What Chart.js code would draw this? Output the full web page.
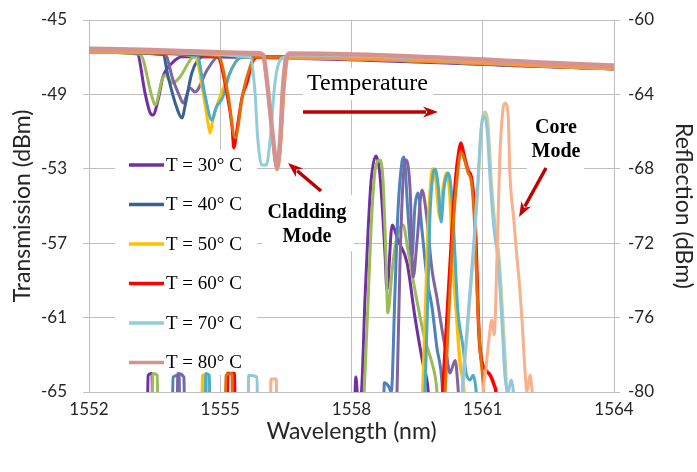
<!DOCTYPE html>
<html><head><meta charset="utf-8">
<script src="https://cdn.jsdelivr.net/npm/chart.js@4"></script>
<style>html,body{margin:0;padding:0;background:#fff}canvas{display:block}</style>
</head><body>
<canvas id="c" width="697" height="472"></canvas>
<script>
// ---- Transmission (left axis, dBm) : wavelength (nm) / value arrays ----
const T30_WL = [1552, 1553.10, 1553.28, 1553.39, 1553.46, 1553.58, 1553.69, 1553.90, 1554.13, 1564];
const T30_DB = [-46.72, -46.82, -48.92, -49.95, -50.11, -49.30, -48.06, -47.31, -46.98, -47.62];
const T30B_WL = [1552, 1553.17, 1553.44, 1553.51, 1553.67, 1553.74, 1553.90, 1554.08, 1554.35, 1554.49, 1564];
const T30B_DB = [-46.72, -46.85, -49.14, -49.57, -48.23, -47.96, -48.39, -48.06, -47.04, -46.92, -47.62];
const T40_WL = [1552, 1553.69, 1553.81, 1553.97, 1554.13, 1554.19, 1554.35, 1554.49, 1554.65, 1564];
const T40_DB = [-46.72, -46.86, -48.06, -49.46, -50.27, -49.68, -47.85, -47.15, -46.95, -47.62];
const T40B_WL = [1552, 1553.74, 1553.92, 1554.08, 1554.15, 1554.31, 1554.42, 1554.70, 1554.93, 1555.04, 1564];
const T40B_DB = [-46.72, -46.86, -48.23, -49.14, -49.46, -48.66, -48.87, -47.69, -46.99, -46.95, -47.62];
const T50_WL = [1552, 1554.42, 1554.61, 1554.72, 1554.77, 1554.83, 1554.99, 1555.15, 1555.38, 1555.50, 1564];
const T50_DB = [-46.72, -46.92, -48.92, -50.54, -51.08, -50.38, -49.14, -48.23, -47.15, -46.99, -47.62];
const T50B_WL = [1552, 1554.47, 1554.65, 1554.81, 1554.90, 1555.06, 1555.22, 1555.45, 1555.61, 1564];
const T50B_DB = [-46.72, -46.92, -49.03, -50.38, -49.73, -49.14, -47.85, -47.04, -46.97, -47.62];
const T60_WL = [1552, 1554.93, 1555.15, 1555.27, 1555.31, 1555.38, 1555.50, 1555.61, 1555.73, 1555.86, 1564];
const T60_DB = [-46.72, -46.95, -48.92, -50.75, -51.88, -50.91, -49.14, -48.39, -47.31, -46.99, -47.62];
const T60B_WL = [1552, 1554.95, 1555.18, 1555.34, 1555.52, 1555.68, 1555.79, 1564];
const T60B_DB = [-46.72, -46.92, -49.03, -51.34, -48.92, -47.53, -46.99, -47.62];
const T70_WL = [1552, 1555.68, 1555.79, 1555.86, 1555.95, 1556.05, 1556.14, 1556.25, 1556.37, 1556.53, 1564];
const T70_DB = [-46.72, -46.99, -48.76, -51.45, -52.80, -52.80, -51.45, -48.39, -47.15, -46.98, -47.62];
const T80_WL = [1552, 1555.86, 1555.98, 1556.09, 1556.21, 1556.30, 1556.37, 1556.43, 1556.50, 1556.59, 1564];
const T80_DB = [-46.55, -46.78, -46.88, -48.76, -51.45, -52.90, -51.45, -48.76, -47.15, -46.80, -47.45];
const T80B_WL = [1552, 1555.95, 1556.09, 1556.21, 1556.30, 1556.39, 1556.46, 1556.55, 1564];
const T80B_DB = [-46.72, -46.88, -48.87, -51.70, -53.06, -51.45, -48.76, -47.04, -47.62];

// ---- Reflection (right axis, dBm) ----
const R30_WL = [1552, 1553.33, 1553.35, 1553.44, 1553.46, 1558.05, 1558.10, 1558.15, 1558.22, 1558.31, 1558.38, 1558.45, 1558.56, 1558.65, 1558.77, 1558.81, 1558.93, 1559.06, 1559.27, 1559.45, 1559.63, 1559.75, 1559.80, 1564];
const R30_DB = [-82, -82, -79.1, -79.0, -82, -82, -79.2, -80.5, -80.2, -74.89, -71.29, -68.60, -67.31, -68.33, -72.74, -74.52, -71.02, -71.83, -73.06, -75.97, -78.44, -79.89, -82, -82];
const R30B_WL = [1552, 1553.44, 1553.46, 1553.56, 1553.58, 1558.26, 1558.29, 1558.38, 1558.47, 1558.56, 1558.65, 1558.72, 1558.79, 1558.83, 1558.93, 1559.02, 1559.18, 1559.29, 1559.45, 1559.68, 1559.84, 1559.95, 1560.0, 1564];
const R30B_DB = [-82, -82, -79.0, -79.1, -82, -82, -80, -75.05, -70.2, -67.8, -67.53, -68.6, -72.9, -75.75, -73.44, -71.83, -71.02, -72.37, -74.52, -77.2, -78.44, -79.89, -82, -82];
const R40_WL = [1552, 1553.90, 1553.92, 1554.06, 1554.08, 1558.72, 1558.75, 1558.85, 1558.91, 1558.99, 1559.06, 1559.15, 1559.20, 1559.29, 1559.38, 1559.45, 1559.52, 1559.61, 1559.73, 1559.84, 1559.95, 1560.07, 1560.12, 1564];
const R40_DB = [-82, -82, -79.2, -79.1, -82, -82, -79.5, -79.7, -80, -74.89, -70.38, -67.69, -67.37, -70.38, -72.74, -70.05, -69.30, -71.29, -73.98, -75.43, -77.58, -79.52, -82, -82];
const R40B_WL = [1552, 1554.01, 1554.03, 1554.17, 1554.19, 1559.00, 1559.04, 1559.11, 1559.18, 1559.25, 1559.34, 1559.41, 1559.50, 1559.61, 1559.70, 1559.84, 1559.95, 1560.07, 1560.18, 1560.25, 1560.37, 1560.43, 1560.50, 1564];
const R40B_DB = [-82, -82, -79.0, -79.2, -82, -82, -80, -72.9, -68.6, -67.53, -69.14, -73.82, -71.83, -69.14, -70.2, -73.44, -74.89, -76.67, -78.12, -78.98, -78.3, -79.6, -82, -82];
const R50_WL = [1552, 1554.58, 1554.60, 1554.68, 1554.70, 1559.60, 1559.63, 1559.70, 1559.75, 1559.82, 1559.86, 1559.93, 1560.02, 1560.09, 1560.18, 1560.25, 1560.32, 1560.41, 1560.48, 1560.57, 1560.60, 1564];
const R50_DB = [-82, -82, -79.1, -79.1, -82, -82, -80, -75.05, -71.29, -68.6, -68.01, -68.6, -70.59, -69.14, -68.23, -69.41, -73.06, -76.13, -78.44, -80, -82, -82];
const R50B_WL = [1552, 1554.65, 1554.67, 1554.75, 1554.77, 1559.65, 1559.68, 1559.75, 1559.79, 1559.86, 1559.91, 1559.98, 1560.05, 1560.11, 1560.21, 1560.30, 1560.37, 1560.43, 1560.55, 1560.62, 1560.71, 1560.78, 1560.85, 1560.90, 1564];
const R50B_DB = [-82, -82, -79.0, -79.1, -82, -82, -80, -74.52, -70.75, -68.33, -68.01, -68.87, -70.86, -69.14, -68.23, -69.68, -72.9, -75.59, -77.58, -78.98, -79.35, -79.1, -80, -82, -82];
const R60_WL = [1552, 1555.15, 1555.17, 1555.32, 1555.34, 1560.06, 1560.09, 1560.18, 1560.30, 1560.39, 1560.46, 1560.50, 1560.57, 1560.66, 1560.75, 1560.82, 1560.87, 1560.91, 1560.96, 1561.07, 1561.17, 1561.26, 1561.30, 1561.35, 1564];
const R60_DB = [-82, -82, -79.0, -79.0, -82, -82, -80, -76.13, -71.29, -68.33, -66.99, -66.61, -67.26, -68.06, -68.6, -70.48, -73.82, -76.67, -78.12, -78.82, -79.09, -79.62, -80, -82, -82];
const R60B_WL = [1552, 1555.11, 1555.13, 1555.27, 1555.29, 1560.11, 1560.14, 1560.23, 1560.32, 1560.41, 1560.50, 1560.57, 1560.66, 1560.75, 1560.82, 1560.87, 1560.94, 1561.01, 1561.05, 1564];
const R60B_DB = [-82, -82, -79.1, -79.0, -82, -82, -80, -75.59, -71.29, -68.6, -67.10, -67.42, -68.17, -68.87, -71.29, -74.52, -77.74, -79.62, -82, -82];
const R70_WL = [1552, 1555.63, 1555.65, 1555.84, 1555.86, 1560.50, 1560.53, 1560.62, 1560.71, 1560.80, 1560.89, 1560.96, 1561.03, 1561.10, 1561.17, 1561.26, 1561.35, 1561.44, 1561.51, 1561.58, 1561.65, 1561.70, 1561.75, 1564];
const R70_DB = [-82, -82, -79.1, -79.2, -82, -82, -80, -77.2, -74.52, -71.83, -68.6, -65.91, -65.16, -65.91, -68.6, -71.29, -72.9, -76.29, -79.19, -80, -79.35, -80, -82, -82];
const R70B_WL = [1552, 1560.52, 1560.55, 1560.64, 1560.73, 1560.82, 1560.91, 1560.98, 1561.05, 1561.12, 1561.19, 1561.28, 1561.37, 1561.46, 1561.53, 1561.58, 1564];
const R70B_DB = [-82, -82, -80, -77.0, -74.3, -71.5, -68.2, -65.5, -64.95, -65.6, -68.4, -71.0, -72.7, -76.0, -79.0, -82, -82];
const R80_WL = [1552, 1556.14, 1556.16, 1556.28, 1556.30, 1560.98, 1561.01, 1561.07, 1561.14, 1561.21, 1561.26, 1561.33, 1561.39, 1561.46, 1561.51, 1561.58, 1561.62, 1561.71, 1561.78, 1561.85, 1561.90, 1561.97, 1562.01, 1562.08, 1562.13, 1562.20, 1564];
const R80_DB = [-82, -82, -79.3, -79.3, -82, -82, -80, -78.82, -77.2, -76.13, -76.94, -72.37, -67.37, -64.84, -64.46, -65.11, -68.23, -70.75, -72.74, -74.52, -76.29, -78.98, -80, -79.09, -80, -82, -82];

// ---- Axis ticks & labels ----
const X_TICKS = [1552, 1555, 1558, 1561, 1564];
const Y_LEFT_TICKS = [-45, -49, -53, -57, -61, -65];
const Y_RIGHT_TICKS = [-60, -64, -68, -72, -76, -80];
const LEGEND_LABELS = ['T = 30° C', 'T = 40° C', 'T = 50° C', 'T = 60° C', 'T = 70° C', 'T = 80° C'];
const LEGEND_COLORS = ['#7030A0', '#3B6192', '#FFC000', '#FF0000', '#92CDDC', '#D49391'];

function pts(wl, db) { return wl.map((w, i) => ({x: w, y: db[i]})); }
function ds(wl, db, color, axis, width, order) {
  return {data: pts(wl, db), borderColor: color, backgroundColor: color, borderWidth: width,
    yAxisID: axis, pointRadius: 0, fill: false, cubicInterpolationMode: 'monotone', order: order};
}

const datasets = [
  ds(T80_WL, T80_DB, '#D49391', 'y', 4.5, 1),
  ds(T80B_WL, T80B_DB, '#F79646', 'y', 3, 2),
  ds(T70_WL, T70_DB, '#92CDDC', 'y', 3, 3),
  ds(T60B_WL, T60B_DB, '#E46C0A', 'y', 3, 4),
  ds(T60_WL, T60_DB, '#FF0000', 'y', 3, 5),
  ds(T50B_WL, T50B_DB, '#4BACC6', 'y', 3, 6),
  ds(T50_WL, T50_DB, '#FFC000', 'y', 3, 7),
  ds(T40_WL, T40_DB, '#3B6192', 'y', 3, 8),
  ds(T40B_WL, T40B_DB, '#8064A2', 'y', 3, 9),
  ds(T30B_WL, T30B_DB, '#9BBB59', 'y', 3, 10),
  ds(T30_WL, T30_DB, '#7030A0', 'y', 3, 11),
  ds(R80_WL, R80_DB, '#F8B18C', 'y1', 3, 12),
  ds(R70_WL, R70_DB, '#93C6D8', 'y1', 3, 13),
  ds(R70B_WL, R70B_DB, '#BFD39E', 'y1', 3, 14),
  ds(R60B_WL, R60B_DB, '#E46C0A', 'y1', 3, 15),
  ds(R60_WL, R60_DB, '#FF0000', 'y1', 3.5, 16),
  ds(R50B_WL, R50B_DB, '#4BACC6', 'y1', 3, 17),
  ds(R50_WL, R50_DB, '#FFC000', 'y1', 3.5, 18),
  ds(R40B_WL, R40B_DB, '#8064A2', 'y1', 3, 19),
  ds(R40_WL, R40_DB, '#4F81BD', 'y1', 3, 20),
  ds(R30B_WL, R30B_DB, '#9BBB59', 'y1', 3, 21),
  ds(R30_WL, R30_DB, '#7030A0', 'y1', 3, 22)
];

const GRID = '#BFBFBF';
const TXT = '#262626';
const tickFont = {family: 'Lato', size: 17};
const titleFont = {family: 'Lato', size: 23};

function arrow(ctx, x1, y1, x2, y2) {
  const a = Math.atan2(y2 - y1, x2 - x1);
  const L = 15, W = 5.5;
  ctx.save();
  ctx.strokeStyle = '#C00000'; ctx.fillStyle = '#C00000'; ctx.lineWidth = 3.5;
  ctx.beginPath(); ctx.moveTo(x1, y1);
  ctx.lineTo(x2 - Math.cos(a) * L * 0.8, y2 - Math.sin(a) * L * 0.8); ctx.stroke();
  ctx.beginPath();
  ctx.moveTo(x2, y2);
  ctx.lineTo(x2 - Math.cos(a) * L - Math.sin(a) * W, y2 - Math.sin(a) * L + Math.cos(a) * W);
  ctx.lineTo(x2 - Math.cos(a) * L * 0.7, y2 - Math.sin(a) * L * 0.7);
  ctx.lineTo(x2 - Math.cos(a) * L + Math.sin(a) * W, y2 - Math.sin(a) * L - Math.cos(a) * W);
  ctx.closePath(); ctx.fill();
  ctx.restore();
}

const annot = {
  id: 'annot',
  beforeDatasetsDraw(chart) {
    const ctx = chart.ctx;
    ctx.save();
    ctx.fillStyle = '#fff';
    ctx.fillRect(115, 150, 142, 225);   // legend box
    ctx.fillRect(303, 68, 130, 32);     // "Temperature"
    ctx.fillRect(262, 195, 92, 56);     // "Cladding Mode"
    ctx.fillRect(527, 112, 57, 58);     // "Core Mode"
    ctx.restore();
  },
  afterDatasetsDraw(chart) {
    const ctx = chart.ctx;
    ctx.save();
    // legend
    ctx.font = '19px "Liberation Serif"';
    ctx.textBaseline = 'middle';
    ctx.textAlign = 'left';
    LEGEND_LABELS.forEach((lab, i) => {
      const y = 165 + i * 39.5;
      ctx.strokeStyle = LEGEND_COLORS[i]; ctx.lineWidth = 3.5;
      ctx.beginPath(); ctx.moveTo(129, y); ctx.lineTo(164, y); ctx.stroke();
      ctx.fillStyle = '#000';
      ctx.fillText(lab, 166, y + 1);
    });
    // annotations
    ctx.fillStyle = '#000';
    ctx.font = '24px "Liberation Serif"';
    ctx.textAlign = 'left'; ctx.textBaseline = 'alphabetic';
    ctx.fillText('Temperature', 307, 90);
    arrow(ctx, 303, 112, 438, 112);
    ctx.font = 'bold 20px "Liberation Serif"';
    ctx.textAlign = 'center';
    ctx.fillText('Core', 556, 133);
    ctx.fillText('Mode', 556, 157);
    arrow(ctx, 546, 168, 519, 217);
    ctx.fillText('Cladding', 307, 218);
    ctx.fillText('Mode', 307, 242);
    arrow(ctx, 321, 191, 288, 163);
    ctx.restore();
  }
};

function fixY(width) {
  return s => { s.width = width; s.paddingTop = 0; s.paddingBottom = 0; };
}

new Chart(document.getElementById('c'), {
  type: 'line',
  data: {datasets},
  options: {
    responsive: false, animation: false,
    layout: {padding: {top: 20, left: 0, right: 0, bottom: 0}},
    plugins: {legend: {display: false}, tooltip: {enabled: false}},
    scales: {
      x: {
        type: 'linear', min: X_TICKS[0], max: X_TICKS[X_TICKS.length - 1],
        afterBuildTicks: s => { s.ticks = X_TICKS.map(v => ({value: v})); },
        afterFit: s => { s.height = 80; s.paddingLeft = 0; s.paddingRight = 0; },
        grid: {color: GRID, drawTicks: false},
        border: {color: GRID},
        ticks: {font: tickFont, color: TXT, padding: 7, maxRotation: 0, autoSkip: false, callback: v => String(v)},
        title: {display: true, text: 'Wavelength (nm)', font: titleFont, color: TXT, padding: {top: 0, bottom: 27}}
      },
      y: {
        type: 'linear', position: 'left', min: -65, max: -45,
        afterBuildTicks: s => { s.ticks = Y_LEFT_TICKS.map(v => ({value: v})); },
        afterFit: fixY(89),
        grid: {color: GRID, tickLength: 6},
        border: {color: GRID},
        ticks: {font: tickFont, color: TXT, padding: 16, callback: v => String(v)},
        title: {display: true, text: 'Transmission (dBm)', font: titleFont, color: TXT, padding: {top: 9, bottom: 0}}
      },
      y1: {
        type: 'linear', position: 'right', min: -80, max: -60,
        afterBuildTicks: s => { s.ticks = Y_RIGHT_TICKS.map(v => ({value: v})); },
        afterFit: fixY(83),
        grid: {color: GRID, tickLength: 6, drawOnChartArea: false},
        border: {color: GRID},
        ticks: {font: tickFont, color: TXT, padding: 8, callback: v => String(v)},
        title: {display: true, text: 'Reflection (dBm)', font: titleFont, color: TXT, padding: {top: 0, bottom: 0}}
      }
    }
  },
  plugins: [annot]
});
</script>
</body></html>
